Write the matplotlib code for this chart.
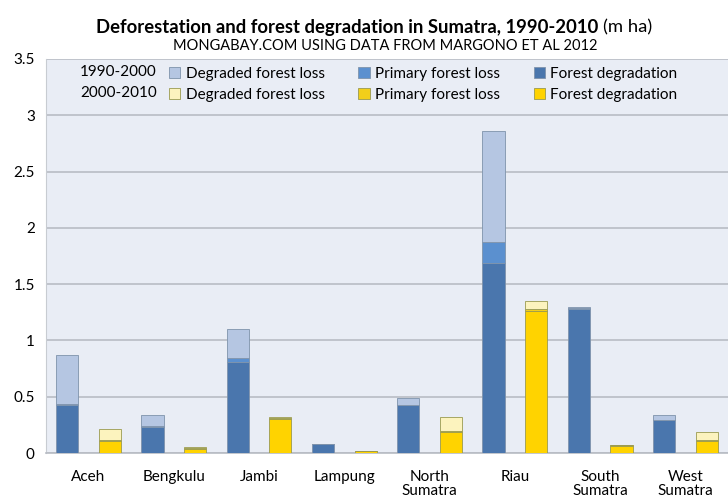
import numpy as np
import matplotlib.pyplot as plt

plt.rcParams['font.family'] = ['Lato', 'DejaVu Sans']

provinces = ['Aceh', 'Bengkulu', 'Jambi', 'Lampung', 'North\nSumatra', 'Riau',
             'South\nSumatra', 'West\nSumatra']

# 1990-2000 (m ha)
deg_90 = [0.43, 0.23, 0.81, 0.08, 0.43, 1.69, 1.28, 0.29]      # forest degradation
prim_90 = [0.01, 0.01, 0.03, 0.0, 0.0, 0.18, 0.01, 0.0]        # primary forest loss
dloss_90 = [0.43, 0.10, 0.26, 0.0, 0.06, 0.99, 0.01, 0.05]     # degraded forest loss

# 2000-2010 (m ha)
deg_00 = [0.11, 0.04, 0.30, 0.015, 0.19, 1.26, 0.06, 0.11]
prim_00 = [0.01, 0.005, 0.01, 0.005, 0.01, 0.02, 0.01, 0.01]
dloss_00 = [0.09, 0.005, 0.01, 0.0, 0.12, 0.07, 0.0, 0.07]

c_deg90, c_prim90, c_dl90 = '#4a76ad', '#5b90cf', '#b5c6e2'
c_deg00, c_prim00, c_dl00 = '#ffd300', '#f2cf1a', '#fcf3be'

fig = plt.figure(figsize=(7.28, 4.99), dpi=100)
ax = fig.add_axes([0.063, 0.092, 0.937, 0.79])
ax.set_facecolor('#e9edf5')

x = np.arange(len(provinces))
w = 0.26
off = 0.25

b1 = ax.bar(x - off, deg_90, w, color=c_deg90, edgecolor='#7f93ab', linewidth=0.6, zorder=3)
b2 = ax.bar(x - off, prim_90, w, bottom=deg_90, color=c_prim90, edgecolor='#7f93ab', linewidth=0.6, zorder=3)
bot = np.array(deg_90) + np.array(prim_90)
b3 = ax.bar(x - off, dloss_90, w, bottom=bot, color=c_dl90, edgecolor='#7f93ab', linewidth=0.6, zorder=3)

b4 = ax.bar(x + off, deg_00, w, color=c_deg00, edgecolor='#9a9a50', linewidth=0.6, zorder=3)
b5 = ax.bar(x + off, prim_00, w, bottom=deg_00, color=c_prim00, edgecolor='#9a9a50', linewidth=0.6, zorder=3)
bot = np.array(deg_00) + np.array(prim_00)
b6 = ax.bar(x + off, dloss_00, w, bottom=bot, color=c_dl00, edgecolor='#9a9a50', linewidth=0.6, zorder=3)

ax.set_xlim(-0.5, len(provinces) - 0.5)
ax.set_ylim(0, 3.5)
ax.set_yticks(np.arange(0, 3.51, 0.5))
ax.set_yticklabels(['0', '0.5', '1', '1.5', '2', '2.5', '3', '3.5'])
ax.set_xticks(x)
ax.set_xticklabels(provinces, fontsize=11, linespacing=1.05)
ax.tick_params(axis='y', length=0, labelsize=11, pad=8)
ax.tick_params(axis='x', length=0, pad=12)
ax.grid(axis='y', color='#b8bcc4', linewidth=1.2, zorder=0)
for s in ['top', 'right']:
    ax.spines[s].set_visible(False)
ax.spines['left'].set_color('#c8ccd2')
ax.spines['bottom'].set_color('#b8bcc4')
ax.spines['bottom'].set_linewidth(1.2)

handles = [b3, b6, b2, b5, b1, b4]
labels = ['Degraded forest loss'] * 2 + ['Primary forest loss'] * 2 + ['Forest degradation'] * 2
ax.legend(handles, labels, ncol=3, loc='upper left', bbox_to_anchor=(0.16, 1.015),
          frameon=False, fontsize=11, handlelength=0.75, handleheight=0.75,
          handletextpad=0.35, columnspacing=2.2, labelspacing=0.45)
fig.text(0.11, 1 - 72 / 499, '1990-2000', fontsize=11, va='center')
fig.text(0.11, 1 - 93 / 499, '2000-2010', fontsize=11, va='center')

fig.text(598 / 728, 1 - 27 / 499, 'Deforestation and forest degradation in Sumatra, 1990-2010',
         fontsize=13.3, fontweight='bold', ha='right', va='center')
fig.text(603 / 728, 1 - 27 / 499, '(m ha)', fontsize=13.3, ha='left', va='center')
fig.text(385 / 728, 1 - 46 / 499, 'MONGABAY.COM USING DATA FROM MARGONO ET AL 2012',
         fontsize=10.5, ha='center', va='center')

fig.savefig('out.png', dpi=100)
